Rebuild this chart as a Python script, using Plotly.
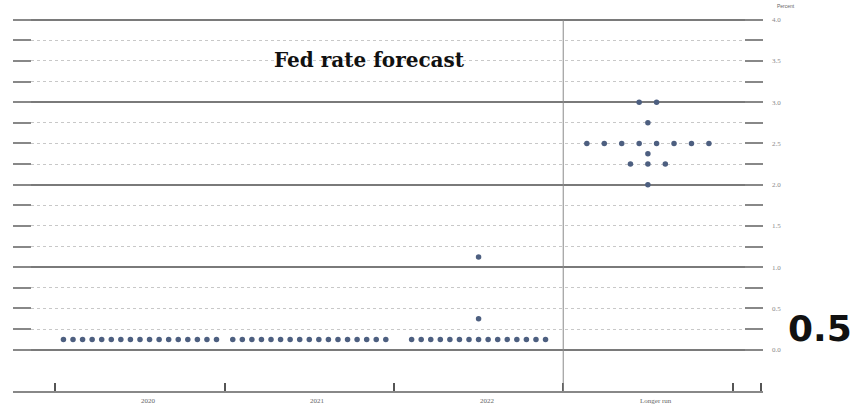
import plotly.graph_objects as go

# Fed dot plot: rate midpoints and number of participants at each one
years = ['2020', '2021', '2022', 'Longer run']
rates_2020 = [0.125]
counts_2020 = [17]
rates_2021 = [0.125]
counts_2021 = [17]
rates_2022 = [0.125, 0.375, 1.125]
counts_2022 = [15, 1, 1]
rates_longer = [2.0, 2.25, 2.375, 2.5, 2.75, 3.0]
counts_longer = [1, 3, 1, 8, 1, 2]

y_ticks = [0.0, 0.25, 0.5, 0.75, 1.0, 1.25, 1.5, 1.75, 2.0, 2.25, 2.5, 2.75,
           3.0, 3.25, 3.5, 3.75, 4.0]
y_labels = ['0.0', '', '0.5', '', '1.0', '', '1.5', '', '2.0', '', '2.5', '',
            '3.0', '', '3.5', '', '4.0']
y_major = [0, 1, 2, 3, 4]

columns = [(rates_2020, counts_2020), (rates_2021, counts_2021),
           (rates_2022, counts_2022), (rates_longer, counts_longer)]

# spread dots of the same rate side by side inside their column
xs, ys = [], []
for i, (rates, counts) in enumerate(columns):
    centre = i + 1
    sp = 0.103 if max(counts) <= 8 else 0.0565
    for r, n in zip(rates, counts):
        for k in range(n):
            xs.append(centre + (k - (n - 1) / 2) * sp)
            ys.append(r)

fig = go.Figure()
fig.add_trace(go.Scatter(
    x=xs, y=ys, mode='markers',
    marker=dict(size=5.5, color='#4d5f80', symbol='circle'),
    showlegend=False, hoverinfo='y'
))
# dummy trace so the overlaying axis with the heavy lines is drawn
fig.add_trace(go.Scatter(x=[None], y=[None], yaxis='y2', showlegend=False))

fig.add_shape(type='line', xref='x', yref='paper', x0=3.5, x1=3.5, y0=0, y1=0.995,
              line=dict(color='#8a8a8a', width=1))

for i, name in enumerate(years):
    fig.add_annotation(x=i + 1.05, y=-0.01, xref='x', yref='paper', text=name,
                       showarrow=False, yanchor='top',
                       font=dict(family='Liberation Serif', size=7, color='#666'))

fig.add_annotation(x=0.475, y=0.925, xref='paper', yref='paper',
                   text='<b>Fed rate forecast</b>', showarrow=False,
                   font=dict(family='DejaVu Serif', size=20, color='#111'))
fig.add_annotation(x=1.045, y=1.045, xref='paper', yref='paper', text='Percent',
                   showarrow=False, font=dict(family='Liberation Sans', size=5, color='#666'))
fig.add_annotation(x=1.03, y=0.107, xref='paper', yref='paper', text='<b>0.5</b>',
                   showarrow=False, xanchor='left',
                   font=dict(family='DejaVu Sans', size=36, color='#111'))

fig.update_layout(
    width=862, height=407,
    margin=dict(l=13, r=99, t=18, b=16),
    paper_bgcolor='white', plot_bgcolor='white',
    xaxis=dict(
        range=[0.25, 4.68], showgrid=False, zeroline=False,
        showline=True, linecolor='#888', linewidth=1.5,
        tickmode='array', tickvals=[0.25, 0.5, 1.5, 2.5, 3.5, 4.5, 4.67],
        ticktext=['', '', '', '', '', '', ''],
        ticks='inside', ticklen=8, tickwidth=2, tickcolor='#555'
    ),
    yaxis=dict(
        range=[-0.5, 4.02], side='right', zeroline=False,
        tickmode='array', tickvals=y_ticks, ticktext=y_labels,
        ticks='inside', ticklen=18, tickwidth=1.5, tickcolor='#888',
        mirror='ticks', showline=False, ticklabelstandoff=8,
        showgrid=True, gridcolor='#c8c8c8', gridwidth=1, griddash='dot',
        tickfont=dict(family='Liberation Serif', size=7, color='#888')
    ),
    yaxis2=dict(
        range=[-0.5, 4.02], overlaying='y', side='right', zeroline=False,
        tickmode='array', tickvals=y_major, showticklabels=False,
        showgrid=True, gridcolor='#7a7a7a', gridwidth=2
    ),
)

fig.write_html('out.html', config={'displayModeBar': False},
               post_script="document.body.style.margin='0';")
